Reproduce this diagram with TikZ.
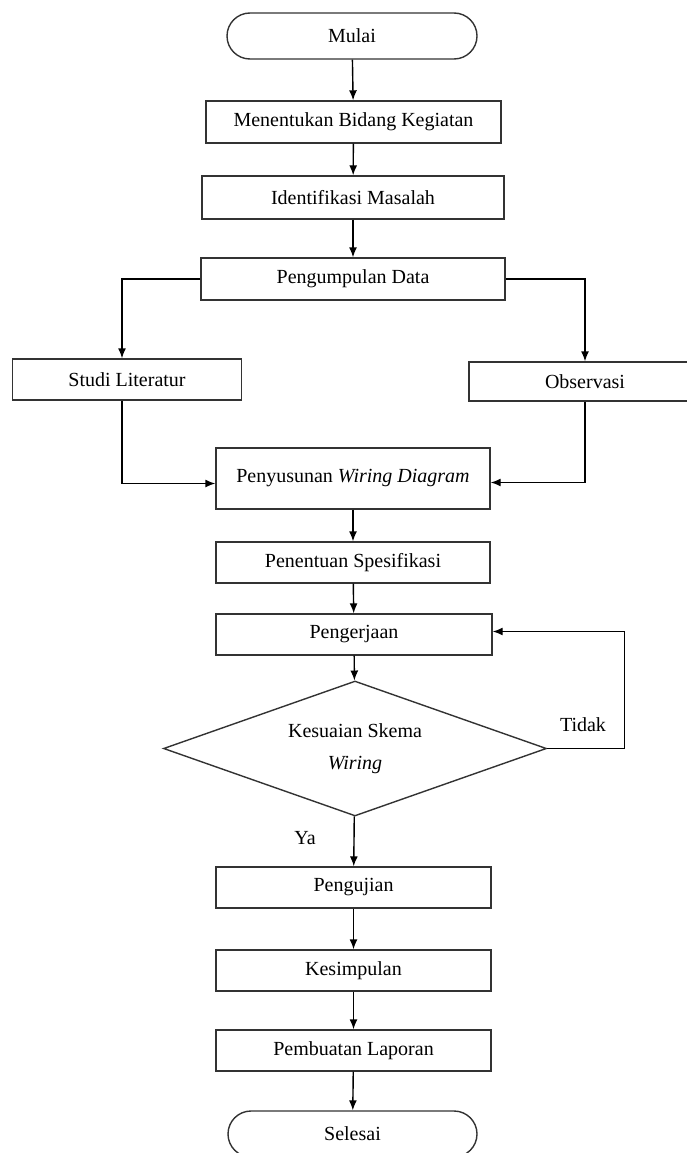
\documentclass[tikz,border=0pt]{standalone}
\usepackage{fontspec}
\setmainfont{Liberation Serif}
\usetikzlibrary{shapes.geometric,arrows.meta}

\begin{document}
\begin{tikzpicture}[x=1pt,y=-1pt,line width=1.4pt,
        every node/.style={font=\fontsize{20}{32}\selectfont},
        proses/.style={draw=black!80, rectangle, minimum height=41pt, inner sep=0pt},
        terminal/.style={draw=black!80, rectangle, rounded corners=23pt, minimum width=250pt, minimum height=46pt},
        keputusan/.style={draw=black!80, diamond, aspect=2.8, minimum width=383pt, minimum height=135pt, inner sep=0pt, align=center},
        panah/.style={-{Latex[length=10pt,width=8pt]}}]
        \useasboundingbox (0,0) rectangle (686,1153);
        \node [terminal] (mulai) at (352,36) {Mulai};
        \node [proses, minimum width=295pt, minimum height=42pt] (bidang) at (353.5,122) {Menentukan Bidang Kegiatan};
        \node [proses, minimum width=302pt, minimum height=43pt] (identifikasi) at (353,197.5) {Identifikasi Masalah};
        \node [proses, minimum width=304pt, minimum height=42pt] (pengumpulan) at (353,279) {Pengumpulan Data};
        \node [proses, minimum width=229pt] (studi) at (127,379.5) {Studi Literatur};
        \node [proses, minimum width=232pt, minimum height=39pt] (observasi) at (585,381.5) {Observasi};
        \node [proses, minimum width=274pt, minimum height=61pt] (wiring) at (353,478.5) {Penyusunan \textit{Wiring Diagram}};
        \node [proses, minimum width=274pt] (spesifikasi) at (353,562.5) {Penentuan Spesifikasi};
        \node [proses, minimum width=276pt] (pengerjaan) at (354,634.5) {Pengerjaan};
        \node [keputusan] (skema) at (355,748.5) {Kesuaian Skema\\\textit{Wiring}};
        \node [proses, minimum width=275pt] (pengujian) at (353.5,887.5) {Pengujian};
        \node [proses, minimum width=275pt] (kesimpulan) at (353.5,970.5) {Kesimpulan};
        \node [proses, minimum width=275pt] (laporan) at (353.5,1050.5) {Pembuatan Laporan};
        \node [terminal, minimum width=249pt] (selesai) at (352.5,1134) {Selesai};
        \draw [panah] (mulai) -- (bidang);
        \draw [panah] (bidang) -- (identifikasi);
        \draw [panah] (identifikasi) -- (pengumpulan);
        \draw [panah] (pengumpulan.west) -| ([xshift=-5pt]studi.north);
        \draw [panah] (pengumpulan.east) -| (observasi.north);
        \draw [panah] ([xshift=-5pt]studi.south) |- ([yshift=-5pt]wiring.west);
        \draw [panah] (observasi.south) |- ([yshift=-4pt]wiring.east);
        \draw [panah] (wiring) -- (spesifikasi);
        \draw [panah] (spesifikasi) -- (pengerjaan);
        \draw [panah] (pengerjaan) -- (skema);
        \draw [panah] (skema.east) -- ++(77,0) |- ([yshift=3pt]pengerjaan.east);
        \node (tidak) at (583,725) {Tidak};
        \draw [panah] (skema) -- (pengujian);
        \node (ya) at (305,838) {Ya};
        \draw [panah] (pengujian) -- (kesimpulan);
        \draw [panah] (kesimpulan) -- (laporan);
        \draw [panah] (laporan) -- (selesai);
\end{tikzpicture}
\end{document}
